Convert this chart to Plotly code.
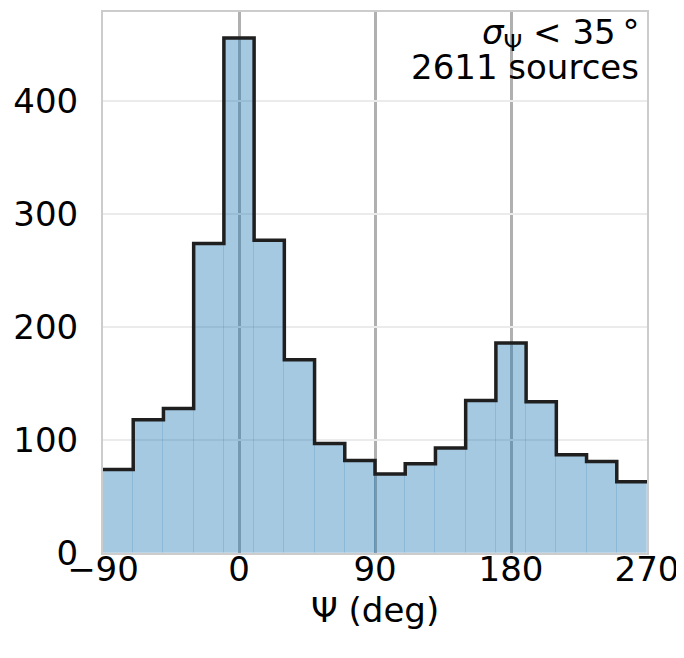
import plotly.graph_objects as go

bin_edges = [-90, -70, -50, -30, -10, 10, 30, 50, 70, 90, 110, 130, 150, 170, 190, 210, 230, 250, 270]
counts = [74, 118, 128, 274, 456, 277, 171, 97, 82, 70, 79, 93, 135, 186, 134, 87, 81, 63]
x_ticks = [-90, 0, 90, 180, 270]
x_tick_labels = ["\u221290", "0", "90", "180", "270"]
y_ticks = [0, 100, 200, 300, 400]
x_title = "\u03a8 (deg)"
annotation_lines = ["<i>\u03c3</i><sub>\u03a8</sub> < 35\u2009\u00b0", "2611 sources"]

centers = [(a + b) / 2 for a, b in zip(bin_edges[:-1], bin_edges[1:])]
widths = [b - a for a, b in zip(bin_edges[:-1], bin_edges[1:])]

FONT = "DejaVu Sans"
FS = 34

fig = go.Figure()
fig.add_trace(go.Bar(
    x=centers, y=counts, width=widths,
    marker=dict(color="rgba(31,119,180,0.40)",
                line=dict(color="rgba(31,119,180,0.12)", width=1)),
    showlegend=False, hoverinfo="skip",
))
fig.add_trace(go.Scatter(
    x=bin_edges, y=counts + [counts[-1]],
    mode="lines", line=dict(color="#1f1f1f", width=3.5, shape="hv"),
    showlegend=False, hoverinfo="skip",
))

for i, line in enumerate(annotation_lines):
    fig.add_annotation(
        x=1, y=1, xref="paper", yref="paper", xanchor="right", yanchor="top",
        xshift=-6, yshift=2 - 35 * i,
        text=line, align="right", showarrow=False,
        font=dict(family=FONT, size=FS, color="black"),
    )
fig.add_annotation(
    x=0.5, y=0, xref="paper", yref="paper", xanchor="center", yanchor="middle",
    yshift=-57, text=x_title, showarrow=False,
    font=dict(family=FONT, size=FS, color="black"),
)

fig.update_layout(
    width=676, height=650,
    margin=dict(l=95, r=37, t=4, b=105),
    paper_bgcolor="white", plot_bgcolor="white",
    bargap=0,
    font=dict(family=FONT, size=FS, color="black"),
    xaxis=dict(
        range=[-90, 270], tickvals=x_ticks, ticktext=x_tick_labels,
        showgrid=True, gridcolor="#b0b0b0", gridwidth=2.5,
        showline=True, linecolor="#cccccc", linewidth=2, mirror=True,
        zeroline=False, ticks="", ticklabelstandoff=-15, automargin=False,
    ),
    yaxis=dict(
        range=[0, 479], tickvals=y_ticks,
        showgrid=True, gridcolor="#ebebeb", gridwidth=2,
        showline=True, linecolor="#cccccc", linewidth=2, mirror=True,
        zeroline=False, ticks="", ticklabelstandoff=16, automargin=False,
    ),
)

fig.write_html("out.html")
